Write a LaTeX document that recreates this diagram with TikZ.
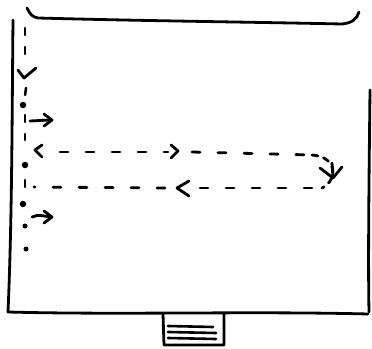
\documentclass[tikz,border=0pt]{standalone}
\usetikzlibrary{arrows.meta}
\begin{document}
\begin{tikzpicture}[x=1pt,y=-1pt,line cap=round,line join=round,
  ink/.style={line width=2.8pt,black},
  dashln/.style={line width=2.8pt,black,dash pattern=on 8pt off 18pt},
  vdash/.style={line width=2.6pt,black,dash pattern=on 7pt off 12pt},
  dot/.style={circle,fill=black,inner sep=0pt,minimum size=6.5pt}]
\useasboundingbox (0,0) rectangle (372,348);
% frame
\draw[ink] (27,8) .. controls (30,14) and (32,17) .. (38,18) .. controls (150,21) and (250,22) .. (342,24) .. controls (352,23) and (357,19) .. (359,12);
\draw[ink] (13,20) .. controls (12,120) and (12,220) .. (8,312);
\draw[ink] (8,312) .. controls (120,315) and (250,311) .. (368,314);
\draw[ink] (370,90) .. controls (369,180) and (368,260) .. (369,312);
% small box
\draw[ink] (163,314) -- (164,345) -- (224,345) -- (224,314);
\draw[line width=2.6pt] (168,326) -- (213,327);
\draw[line width=2.6pt] (168,332) -- (216,333);
\draw[line width=2.6pt] (168,338) -- (216,339);
% vertical dashed line
\coordinate (vtop) at (25,28);
\coordinate (vbot) at (25,250);
\draw[vdash] (vtop) -- (25,62);
\draw[ink] (18,70) -- (24,78) -- (36,68);
\draw[vdash] (26,88) -- (25,96);
\node[dot] (d1) at (23,105) {};
\draw[vdash] (25,115) -- (25,140);
\node[dot] (d2) at (25,165) {};
\draw[vdash] (25,180) -- (25,195);
\node[dot] (d3) at (23,204) {};
\node[dot,minimum size=5pt] (d4) at (25,226) {};
\node[dot,minimum size=5pt] (d5) at (26,249) {};
% small arrows
\draw[ink] (30,121) -- (50,120);
\draw[ink] (44,114) -- (52,120) -- (44,126);
\draw[ink] (32,217) .. controls (38,214) and (44,216) .. (50,217);
\draw[ink] (44,211) -- (52,217) -- (44,223);
% loop
\coordinate (ls) at (60,152);
\coordinate (le) at (312,155);
\draw[ink] (42,145) -- (35,150) -- (42,157);
\draw[dashln] (ls) -- (168,152);
\draw[ink] (171,145) -- (178,151) -- (171,158);
\draw[dashln] (192,152) -- (le);
\draw[ink,dash pattern=on 6pt off 6pt] (le) .. controls (338,157) and (338,180) .. (322,188);
\draw[ink] (320,168) -- (333,178) -- (342,167);
\draw[ink] (332,163) -- (333,178);
\coordinate (rs) at (312,188);
\coordinate (re) at (34,187);
\draw[dashln] (rs) -- (200,188);
\draw[ink] (189,181) -- (177,188) -- (189,196);
\draw[dashln] (165,188) -- (re);
\end{tikzpicture}
\end{document}
